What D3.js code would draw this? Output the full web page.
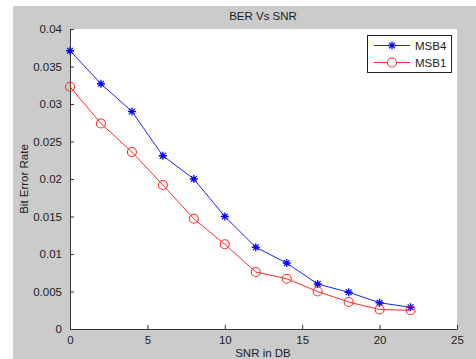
<!DOCTYPE html>
<html>
<head>
<meta charset="utf-8">
<script src="https://cdn.jsdelivr.net/npm/d3@7"></script>
<style>
  body { margin: 0; background: #fff; }
  text { font-family: "Liberation Sans", Arial, sans-serif; fill: #222; }
</style>
</head>
<body>
<div id="chart"></div>
<script>
const width = 476;
const height = 359;

// data
const snr = [0, 2, 4, 6, 8, 10, 12, 14, 16, 18, 20, 22];
const msb4 = [0.0371, 0.0327, 0.0290, 0.0231, 0.0200, 0.0150, 0.0109, 0.0088, 0.0060, 0.0049, 0.0035, 0.0029];
const msb1 = [0.0323, 0.0274, 0.0236, 0.0192, 0.0147, 0.0113, 0.0076, 0.0067, 0.0050, 0.0036, 0.0026, 0.0025];
const xTicks = [0, 5, 10, 15, 20, 25];
const yTicks = [0, 0.005, 0.01, 0.015, 0.02, 0.025, 0.03, 0.035, 0.04];

const svg = d3.select("#chart").append("svg")
    .attr("width", width)
    .attr("height", height);

// grey figure background
svg.append("rect")
    .attr("x", 13).attr("y", 6)
    .attr("width", width - 13).attr("height", height - 6)
    .attr("fill", "#cbcbcb");

const plot = { left: 70, right: 457, top: 29, bottom: 329 };

const x = d3.scaleLinear().domain([0, 25]).range([plot.left, plot.right]);
const y = d3.scaleLinear().domain([0, 0.04]).range([plot.bottom, plot.top]);

svg.append("rect")
    .attr("x", plot.left).attr("y", plot.top)
    .attr("width", plot.right - plot.left).attr("height", plot.bottom - plot.top)
    .attr("fill", "#fff");

const fmt = d => d === 0 ? "0" : String(+d.toFixed(3));

const xaxis = d3.axisBottom(x).tickValues(xTicks).tickSizeInner(-4).tickSizeOuter(0).tickPadding(7).tickFormat(fmt);
const yaxis = d3.axisLeft(y).tickValues(yTicks).tickSizeInner(-4).tickSizeOuter(0).tickPadding(7).tickFormat(fmt);

const gx = svg.append("g")
    .attr("transform", "translate(0," + plot.bottom + ")")
    .call(xaxis);
const gy = svg.append("g")
    .attr("transform", "translate(" + plot.left + ",0)")
    .call(yaxis);

[gx, gy].forEach(g => {
    g.select(".domain").attr("stroke", "#333");
    g.selectAll(".tick line").attr("stroke", "#333");
    g.selectAll(".tick text").attr("font-size", 11.5).attr("fill", "#222")
        .style("font-family", "'Liberation Sans', Arial, sans-serif");
});
gy.selectAll(".tick text").attr("dx", -1);

const line = d3.line()
    .x((d, i) => x(snr[i]))
    .y(d => y(d));

const blue = "#2020ff";
const red = "#ff2a2a";

function starPath(cx, cy, r) {
    const p = d3.path();
    p.moveTo(cx - r, cy); p.lineTo(cx + r, cy);
    p.moveTo(cx, cy - r); p.lineTo(cx, cy + r);
    const k = r * 0.72;
    p.moveTo(cx - k, cy - k); p.lineTo(cx + k, cy + k);
    p.moveTo(cx - k, cy + k); p.lineTo(cx + k, cy - k);
    return p.toString();
}

svg.append("path")
    .datum(msb4)
    .attr("fill", "none")
    .attr("stroke", blue)
    .attr("stroke-width", 1)
    .attr("d", line);

svg.append("g").selectAll("path")
    .data(msb4)
    .enter()
    .append("path")
    .attr("d", (d, i) => starPath(x(snr[i]), y(d), 4))
    .attr("stroke", "#0000ff")
    .attr("stroke-width", 1.3);

svg.append("path")
    .datum(msb1)
    .attr("fill", "none")
    .attr("stroke", red)
    .attr("stroke-width", 1)
    .attr("d", line);

svg.append("g").selectAll("circle")
    .data(msb1)
    .enter()
    .append("circle")
    .attr("cx", (d, i) => x(snr[i]))
    .attr("cy", d => y(d))
    .attr("r", 4.5)
    .attr("fill", "none")
    .attr("stroke", red)
    .attr("stroke-width", 1.1);

// legend
const legend = svg.append("g");
legend.append("rect")
    .attr("x", 367.5).attr("y", 35.5)
    .attr("width", 84).attr("height", 37)
    .attr("fill", "#fff")
    .attr("stroke", "#222");

const legendItems = [
    { name: "MSB4", color: blue, marker: "star" },
    { name: "MSB1", color: red, marker: "circle" }
];
legendItems.forEach((it, i) => {
    const ly = 45.5 + i * 17;
    legend.append("line")
        .attr("x1", 374).attr("x2", 410)
        .attr("y1", ly).attr("y2", ly)
        .attr("stroke", it.color);
    if (it.marker === "star") {
        legend.append("path").attr("d", starPath(392, ly, 4))
            .attr("stroke", "#0000ff").attr("stroke-width", 1.3);
    } else {
        legend.append("circle").attr("cx", 392).attr("cy", ly).attr("r", 4.5)
            .attr("fill", "#fff").attr("stroke", it.color).attr("stroke-width", 1.1);
    }
    legend.append("text")
        .attr("x", 415).attr("y", ly + 4)
        .attr("font-size", 11.5)
        .text(it.name);
});

// titles
svg.append("text")
    .attr("x", 263).attr("y", 20)
    .attr("text-anchor", "middle")
    .attr("font-size", 11.5)
    .text("BER Vs SNR");

svg.append("text")
    .attr("x", 263).attr("y", 357)
    .attr("text-anchor", "middle")
    .attr("font-size", 11.5)
    .text("SNR in DB");

svg.append("text")
    .attr("transform", "translate(28,179) rotate(-90)")
    .attr("text-anchor", "middle")
    .attr("font-size", 11.5)
    .text("Bit Error Rate");
</script>
</body>
</html>
